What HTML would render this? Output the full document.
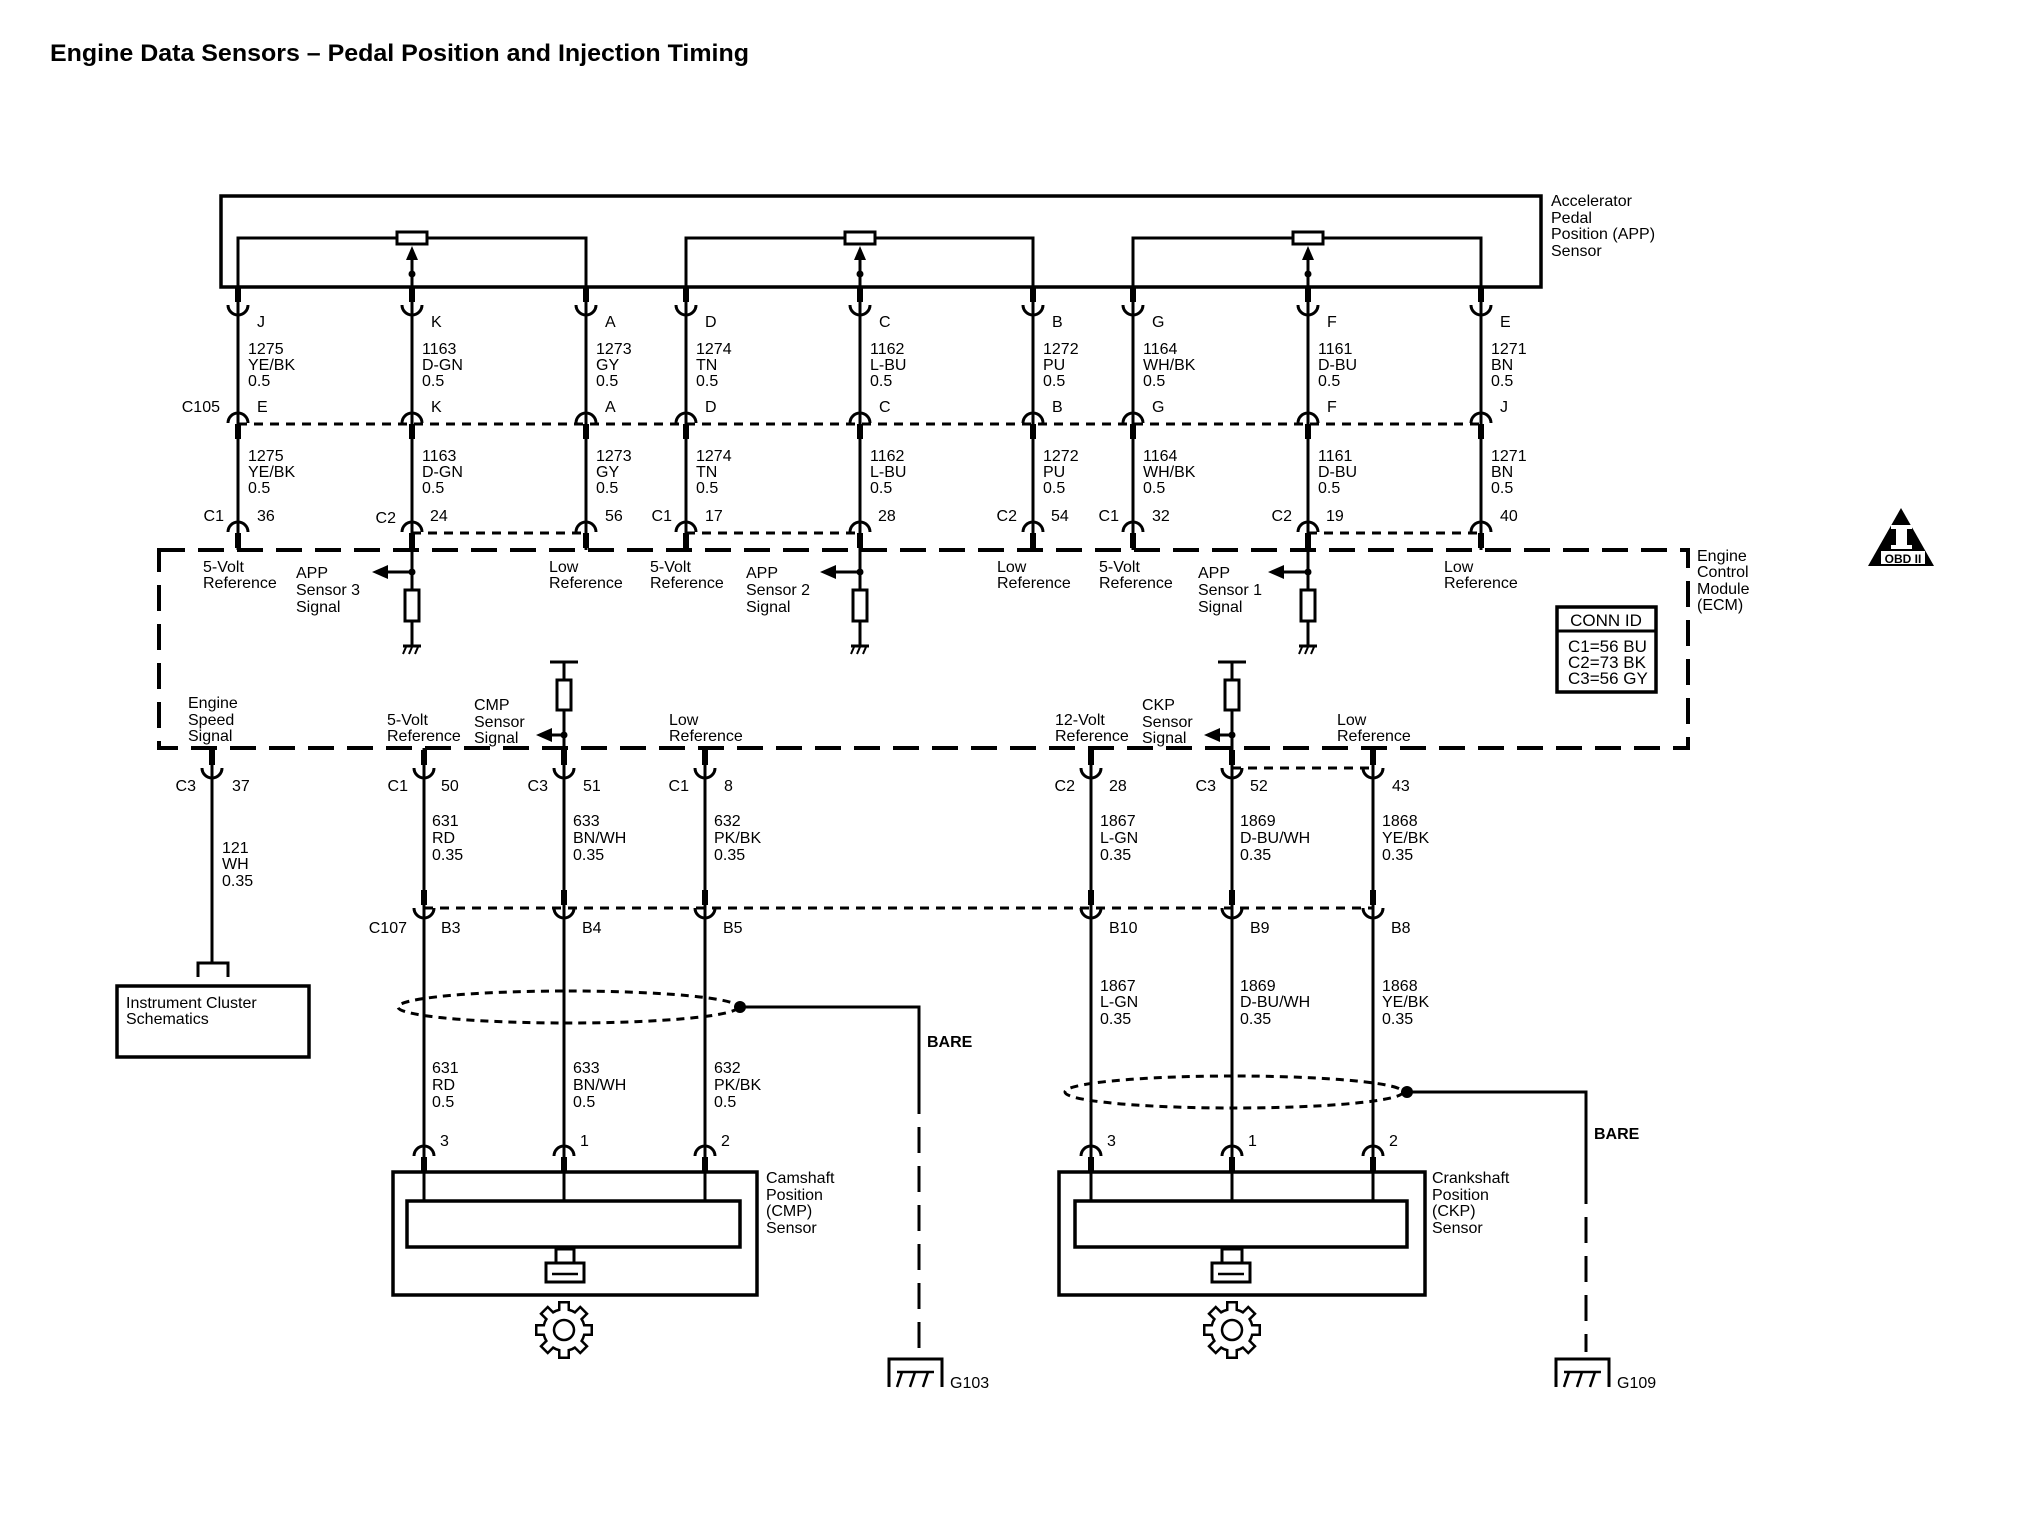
<!DOCTYPE html>
<html><head><meta charset="utf-8"><style>
html,body{margin:0;padding:0;background:#fff}
svg{display:block}
text{font-family:"Liberation Sans",sans-serif;font-size:16px;fill:#000}
</style></head><body>
<svg width="2030" height="1520" viewBox="0 0 2030 1520" xmlns="http://www.w3.org/2000/svg">
<defs>
<g id="cu"><rect x="-3" y="-28" width="6" height="15" fill="#000"/><path d="M-10,-10 A10,10 0 0 0 10,-10" fill="none" stroke="#000" stroke-width="3"/></g>
<g id="cn"><path d="M-10,10 A10,10 0 0 1 10,10" fill="none" stroke="#000" stroke-width="3"/><rect x="-3" y="11" width="6" height="15" fill="#000"/></g>
<g id="gnd"><line x1="-9" y1="0" x2="9" y2="0" stroke="#000" stroke-width="3"/><path d="M-6,1 L-9,8 M0,1 L-3,8 M6,1 L3,8" stroke="#000" stroke-width="2"/></g>
<g id="tb"><rect x="-6" y="-29" width="12" height="12" fill="#000"/></g>
<g id="tw"><rect x="-3.5" y="-26.5" width="7" height="10" fill="#fff"/></g>
<g id="gear">
<circle r="22" fill="#000"/>
<use href="#tb"/><use href="#tb" transform="rotate(45)"/><use href="#tb" transform="rotate(90)"/><use href="#tb" transform="rotate(135)"/><use href="#tb" transform="rotate(180)"/><use href="#tb" transform="rotate(225)"/><use href="#tb" transform="rotate(270)"/><use href="#tb" transform="rotate(315)"/>
<circle r="19.5" fill="#fff"/>
<use href="#tw"/><use href="#tw" transform="rotate(45)"/><use href="#tw" transform="rotate(90)"/><use href="#tw" transform="rotate(135)"/><use href="#tw" transform="rotate(180)"/><use href="#tw" transform="rotate(225)"/><use href="#tw" transform="rotate(270)"/><use href="#tw" transform="rotate(315)"/>
<circle r="10" fill="none" stroke="#000" stroke-width="2.5"/></g>
</defs>

<text x="50" y="61" style="font-size:24px;font-weight:bold" textLength="699" lengthAdjust="spacingAndGlyphs">Engine Data Sensors – Pedal Position and Injection Timing</text>

<rect x="221" y="196" width="1320" height="91" fill="none" stroke="#000" stroke-width="3.5"/>
<g fill="none" stroke="#000" stroke-width="3">
<path d="M238,287 V238 H586 V287"/><path d="M686,287 V238 H1033 V287"/><path d="M1133,287 V238 H1481 V287"/>
<line x1="412" y1="287" x2="412" y2="258"/><line x1="860" y1="287" x2="860" y2="258"/><line x1="1308" y1="287" x2="1308" y2="258"/>
</g>
<g fill="#fff" stroke="#000" stroke-width="3">
<rect x="397" y="232" width="30" height="12"/><rect x="845" y="232" width="30" height="12"/><rect x="1293" y="232" width="30" height="12"/>
</g>
<g fill="#000">
<path d="M412,246 L406,260 L418,260Z"/><path d="M860,246 L854,260 L866,260Z"/><path d="M1308,246 L1302,260 L1314,260Z"/>
<circle cx="412" cy="274" r="3.5"/><circle cx="860" cy="274" r="3.5"/><circle cx="1308" cy="274" r="3.5"/>
</g>
<g><text x="1551" y="206">Accelerator</text><text x="1551" y="223">Pedal</text><text x="1551" y="239">Position (APP)</text><text x="1551" y="256">Sensor</text></g>

<g stroke="#000" stroke-width="3">
<line x1="238" y1="287" x2="238" y2="550"/><line x1="412" y1="287" x2="412" y2="550"/><line x1="586" y1="287" x2="586" y2="550"/>
<line x1="686" y1="287" x2="686" y2="550"/><line x1="860" y1="287" x2="860" y2="550"/><line x1="1033" y1="287" x2="1033" y2="550"/>
<line x1="1133" y1="287" x2="1133" y2="550"/><line x1="1308" y1="287" x2="1308" y2="550"/><line x1="1481" y1="287" x2="1481" y2="550"/>
</g>
<g stroke="#000" stroke-width="3" stroke-dasharray="9,7">
<line x1="238" y1="424" x2="1481" y2="424"/>
<line x1="412" y1="533" x2="586" y2="533"/><line x1="686" y1="533" x2="860" y2="533"/><line x1="1308" y1="533" x2="1481" y2="533"/>
</g>
<g>
<use href="#cu" x="238" y="315"/><use href="#cu" x="412" y="315"/><use href="#cu" x="586" y="315"/><use href="#cu" x="686" y="315"/><use href="#cu" x="860" y="315"/><use href="#cu" x="1033" y="315"/><use href="#cu" x="1133" y="315"/><use href="#cu" x="1308" y="315"/><use href="#cu" x="1481" y="315"/>
<use href="#cn" x="238" y="413"/><use href="#cn" x="412" y="413"/><use href="#cn" x="586" y="413"/><use href="#cn" x="686" y="413"/><use href="#cn" x="860" y="413"/><use href="#cn" x="1033" y="413"/><use href="#cn" x="1133" y="413"/><use href="#cn" x="1308" y="413"/><use href="#cn" x="1481" y="413"/>
<use href="#cn" x="238" y="522"/><use href="#cn" x="412" y="522"/><use href="#cn" x="586" y="522"/><use href="#cn" x="686" y="522"/><use href="#cn" x="860" y="522"/><use href="#cn" x="1033" y="522"/><use href="#cn" x="1133" y="522"/><use href="#cn" x="1308" y="522"/><use href="#cn" x="1481" y="522"/>
</g>
<g>
<text x="257" y="327">J</text><text x="431" y="327">K</text><text x="605" y="327">A</text><text x="705" y="327">D</text><text x="879" y="327">C</text><text x="1052" y="327">B</text><text x="1152" y="327">G</text><text x="1327" y="327">F</text><text x="1500" y="327">E</text>
<text x="220" y="412" text-anchor="end">C105</text>
<text x="257" y="412">E</text><text x="431" y="412">K</text><text x="605" y="412">A</text><text x="705" y="412">D</text><text x="879" y="412">C</text><text x="1052" y="412">B</text><text x="1152" y="412">G</text><text x="1327" y="412">F</text><text x="1500" y="412">J</text>
</g>
<g>
<text x="248" y="354">1275</text><text x="248" y="370">YE/BK</text><text x="248" y="386">0.5</text>
<text x="422" y="354">1163</text><text x="422" y="370">D-GN</text><text x="422" y="386">0.5</text>
<text x="596" y="354">1273</text><text x="596" y="370">GY</text><text x="596" y="386">0.5</text>
<text x="696" y="354">1274</text><text x="696" y="370">TN</text><text x="696" y="386">0.5</text>
<text x="870" y="354">1162</text><text x="870" y="370">L-BU</text><text x="870" y="386">0.5</text>
<text x="1043" y="354">1272</text><text x="1043" y="370">PU</text><text x="1043" y="386">0.5</text>
<text x="1143" y="354">1164</text><text x="1143" y="370">WH/BK</text><text x="1143" y="386">0.5</text>
<text x="1318" y="354">1161</text><text x="1318" y="370">D-BU</text><text x="1318" y="386">0.5</text>
<text x="1491" y="354">1271</text><text x="1491" y="370">BN</text><text x="1491" y="386">0.5</text>

<text x="248" y="461">1275</text><text x="248" y="477">YE/BK</text><text x="248" y="493">0.5</text>
<text x="422" y="461">1163</text><text x="422" y="477">D-GN</text><text x="422" y="493">0.5</text>
<text x="596" y="461">1273</text><text x="596" y="477">GY</text><text x="596" y="493">0.5</text>
<text x="696" y="461">1274</text><text x="696" y="477">TN</text><text x="696" y="493">0.5</text>
<text x="870" y="461">1162</text><text x="870" y="477">L-BU</text><text x="870" y="493">0.5</text>
<text x="1043" y="461">1272</text><text x="1043" y="477">PU</text><text x="1043" y="493">0.5</text>
<text x="1143" y="461">1164</text><text x="1143" y="477">WH/BK</text><text x="1143" y="493">0.5</text>
<text x="1318" y="461">1161</text><text x="1318" y="477">D-BU</text><text x="1318" y="493">0.5</text>
<text x="1491" y="461">1271</text><text x="1491" y="477">BN</text><text x="1491" y="493">0.5</text>
</g>
<g>
<text x="224" y="521" text-anchor="end">C1</text><text x="257" y="521">36</text>
<text x="396" y="523" text-anchor="end">C2</text><text x="430" y="521">24</text>
<text x="605" y="521">56</text>
<text x="672" y="521" text-anchor="end">C1</text><text x="705" y="521">17</text>
<text x="878" y="521">28</text>
<text x="1017" y="521" text-anchor="end">C2</text><text x="1051" y="521">54</text>
<text x="1119" y="521" text-anchor="end">C1</text><text x="1152" y="521">32</text>
<text x="1292" y="521" text-anchor="end">C2</text><text x="1326" y="521">19</text>
<text x="1500" y="521">40</text>
</g>

<rect x="159" y="550" width="1529" height="198" fill="none" stroke="#000" stroke-width="4" stroke-dasharray="26,13"/>
<g><text x="1697" y="561">Engine</text><text x="1697" y="577">Control</text><text x="1697" y="594">Module</text><text x="1697" y="610">(ECM)</text></g>
<g stroke="#000" stroke-width="3" fill="none">
<line x1="412" y1="550" x2="412" y2="646"/><line x1="412" y1="572" x2="384" y2="572"/><rect x="405" y="590" width="14" height="31" fill="#fff"/>
<line x1="860" y1="550" x2="860" y2="646"/><line x1="860" y1="572" x2="832" y2="572"/><rect x="853" y="590" width="14" height="31" fill="#fff"/>
<line x1="1308" y1="550" x2="1308" y2="646"/><line x1="1308" y1="572" x2="1280" y2="572"/><rect x="1301" y="590" width="14" height="31" fill="#fff"/>
</g>
<g fill="#000">
<path d="M372,572 L388,565 L388,579Z"/><circle cx="412" cy="572" r="3.5"/>
<path d="M820,572 L836,565 L836,579Z"/><circle cx="860" cy="572" r="3.5"/>
<path d="M1268,572 L1284,565 L1284,579Z"/><circle cx="1308" cy="572" r="3.5"/>
</g>
<use href="#gnd" x="412" y="646"/><use href="#gnd" x="860" y="646"/><use href="#gnd" x="1308" y="646"/>
<g>
<text x="203" y="572">5-Volt</text><text x="203" y="588">Reference</text>
<text x="296" y="578">APP</text><text x="296" y="595">Sensor 3</text><text x="296" y="612">Signal</text>
<text x="549" y="572">Low</text><text x="549" y="588">Reference</text>
<text x="650" y="572">5-Volt</text><text x="650" y="588">Reference</text>
<text x="746" y="578">APP</text><text x="746" y="595">Sensor 2</text><text x="746" y="612">Signal</text>
<text x="997" y="572">Low</text><text x="997" y="588">Reference</text>
<text x="1099" y="572">5-Volt</text><text x="1099" y="588">Reference</text>
<text x="1198" y="578">APP</text><text x="1198" y="595">Sensor 1</text><text x="1198" y="612">Signal</text>
<text x="1444" y="572">Low</text><text x="1444" y="588">Reference</text>
</g>
<rect x="1557" y="607" width="99" height="85" fill="none" stroke="#000" stroke-width="3.5"/>
<line x1="1557" y1="631" x2="1656" y2="631" stroke="#000" stroke-width="3"/>
<g style="font-size:17px"><text x="1606" y="626" text-anchor="middle" style="font-size:17px">CONN ID</text>
<text x="1568" y="652" style="font-size:17px">C1=56 BU</text><text x="1568" y="668" style="font-size:17px">C2=73 BK</text><text x="1568" y="684" style="font-size:17px">C3=56 GY</text></g>
<path d="M1901,508 L1868,566 L1934,566Z" fill="#000"/>
<rect x="1896" y="528" width="11" height="18" fill="#fff"/><rect x="1891" y="525" width="21" height="4" fill="#fff"/><rect x="1891" y="545" width="21" height="4" fill="#fff"/>
<rect x="1881" y="551" width="44" height="13" fill="#fff"/>
<text x="1903" y="563" text-anchor="middle" style="font-size:12px;font-weight:bold">OBD II</text>

<g stroke="#000" stroke-width="3" fill="none">
<line x1="550" y1="662" x2="578" y2="662"/><line x1="564" y1="662" x2="564" y2="748"/><rect x="557" y="680" width="14" height="30" fill="#fff"/><line x1="564" y1="735" x2="548" y2="735"/>
<line x1="1218" y1="662" x2="1246" y2="662"/><line x1="1232" y1="662" x2="1232" y2="748"/><rect x="1225" y="680" width="14" height="30" fill="#fff"/><line x1="1232" y1="735" x2="1216" y2="735"/>
</g>
<g fill="#000"><path d="M536,735 L552,728 L552,742Z"/><circle cx="564" cy="735" r="3.5"/><path d="M1204,735 L1220,728 L1220,742Z"/><circle cx="1232" cy="735" r="3.5"/></g>
<g>
<text x="188" y="708">Engine</text><text x="188" y="725">Speed</text><text x="188" y="741">Signal</text>
<text x="387" y="725">5-Volt</text><text x="387" y="741">Reference</text>
<text x="474" y="710">CMP</text><text x="474" y="727">Sensor</text><text x="474" y="743">Signal</text>
<text x="669" y="725">Low</text><text x="669" y="741">Reference</text>
<text x="1055" y="725">12-Volt</text><text x="1055" y="741">Reference</text>
<text x="1142" y="710">CKP</text><text x="1142" y="727">Sensor</text><text x="1142" y="743">Signal</text>
<text x="1337" y="725">Low</text><text x="1337" y="741">Reference</text>
</g>

<g stroke="#000" stroke-width="3">
<line x1="212" y1="748" x2="212" y2="962"/>
<line x1="424" y1="748" x2="424" y2="1172"/><line x1="564" y1="748" x2="564" y2="1172"/><line x1="705" y1="748" x2="705" y2="1172"/>
<line x1="1091" y1="748" x2="1091" y2="1172"/><line x1="1232" y1="748" x2="1232" y2="1172"/><line x1="1373" y1="748" x2="1373" y2="1172"/>
</g>
<g stroke="#000" stroke-width="3" stroke-dasharray="9,7">
<line x1="1232" y1="768" x2="1373" y2="768"/>
<line x1="424" y1="908" x2="1373" y2="908"/>
</g>
<g>
<use href="#cu" x="212" y="778"/><use href="#cu" x="424" y="778"/><use href="#cu" x="564" y="778"/><use href="#cu" x="705" y="778"/><use href="#cu" x="1091" y="778"/><use href="#cu" x="1232" y="778"/><use href="#cu" x="1373" y="778"/>
<use href="#cu" x="424" y="918"/><use href="#cu" x="564" y="918"/><use href="#cu" x="705" y="918"/><use href="#cu" x="1091" y="918"/><use href="#cu" x="1232" y="918"/><use href="#cu" x="1373" y="918"/>
<use href="#cn" x="424" y="1146"/><use href="#cn" x="564" y="1146"/><use href="#cn" x="705" y="1146"/><use href="#cn" x="1091" y="1146"/><use href="#cn" x="1232" y="1146"/><use href="#cn" x="1373" y="1146"/>
</g>
<g>
<text x="196" y="791" text-anchor="end">C3</text><text x="232" y="791">37</text>
<text x="408" y="791" text-anchor="end">C1</text><text x="441" y="791">50</text>
<text x="548" y="791" text-anchor="end">C3</text><text x="583" y="791">51</text>
<text x="689" y="791" text-anchor="end">C1</text><text x="724" y="791">8</text>
<text x="1075" y="791" text-anchor="end">C2</text><text x="1109" y="791">28</text>
<text x="1216" y="791" text-anchor="end">C3</text><text x="1250" y="791">52</text>
<text x="1392" y="791">43</text>

<text x="222" y="853">121</text><text x="222" y="869">WH</text><text x="222" y="886">0.35</text>
<text x="432" y="826">631</text><text x="432" y="843">RD</text><text x="432" y="860">0.35</text>
<text x="573" y="826">633</text><text x="573" y="843">BN/WH</text><text x="573" y="860">0.35</text>
<text x="714" y="826">632</text><text x="714" y="843">PK/BK</text><text x="714" y="860">0.35</text>
<text x="1100" y="826">1867</text><text x="1100" y="843">L-GN</text><text x="1100" y="860">0.35</text>
<text x="1240" y="826">1869</text><text x="1240" y="843">D-BU/WH</text><text x="1240" y="860">0.35</text>
<text x="1382" y="826">1868</text><text x="1382" y="843">YE/BK</text><text x="1382" y="860">0.35</text>

<text x="407" y="933" text-anchor="end">C107</text>
<text x="441" y="933">B3</text><text x="582" y="933">B4</text><text x="723" y="933">B5</text>
<text x="1109" y="933">B10</text><text x="1250" y="933">B9</text><text x="1391" y="933">B8</text>

<text x="432" y="1073">631</text><text x="432" y="1090">RD</text><text x="432" y="1107">0.5</text>
<text x="573" y="1073">633</text><text x="573" y="1090">BN/WH</text><text x="573" y="1107">0.5</text>
<text x="714" y="1073">632</text><text x="714" y="1090">PK/BK</text><text x="714" y="1107">0.5</text>
<text x="1100" y="991">1867</text><text x="1100" y="1007">L-GN</text><text x="1100" y="1024">0.35</text>
<text x="1240" y="991">1869</text><text x="1240" y="1007">D-BU/WH</text><text x="1240" y="1024">0.35</text>
<text x="1382" y="991">1868</text><text x="1382" y="1007">YE/BK</text><text x="1382" y="1024">0.35</text>

<text x="440" y="1146">3</text><text x="580" y="1146">1</text><text x="721" y="1146">2</text>
<text x="1107" y="1146">3</text><text x="1248" y="1146">1</text><text x="1389" y="1146">2</text>
</g>

<path d="M198,977 V963 H228 V977" fill="none" stroke="#000" stroke-width="3"/>
<rect x="117" y="986" width="192" height="71" fill="none" stroke="#000" stroke-width="3.5"/>
<text x="126" y="1008">Instrument Cluster</text><text x="126" y="1024">Schematics</text>

<ellipse cx="568" cy="1007" rx="170" ry="16" fill="none" stroke="#000" stroke-width="3" stroke-dasharray="8,6"/>
<circle cx="740" cy="1007" r="6" fill="#000"/>
<path d="M740,1007 H919 V1088" fill="none" stroke="#000" stroke-width="3"/>
<line x1="919" y1="1088" x2="919" y2="1352" stroke="#000" stroke-width="3" stroke-dasharray="26,13"/>
<path d="M889,1387 V1359 H942 V1387" fill="none" stroke="#000" stroke-width="3"/>
<path d="M897,1387 L902,1372 M910,1387 L915,1372 M923,1387 L928,1372" stroke="#000" stroke-width="2.5"/>
<line x1="897" y1="1372" x2="934" y2="1372" stroke="#000" stroke-width="2.5"/>
<text x="950" y="1388">G103</text>
<text x="927" y="1047" style="font-weight:bold">BARE</text>

<ellipse cx="1234" cy="1092" rx="169" ry="16" fill="none" stroke="#000" stroke-width="3" stroke-dasharray="8,6"/>
<circle cx="1407" cy="1092" r="6" fill="#000"/>
<path d="M1407,1092 H1586 V1178" fill="none" stroke="#000" stroke-width="3"/>
<line x1="1586" y1="1178" x2="1586" y2="1352" stroke="#000" stroke-width="3" stroke-dasharray="26,13"/>
<path d="M1556,1387 V1359 H1609 V1387" fill="none" stroke="#000" stroke-width="3"/>
<path d="M1564,1387 L1569,1372 M1577,1387 L1582,1372 M1590,1387 L1595,1372" stroke="#000" stroke-width="2.5"/>
<line x1="1564" y1="1372" x2="1601" y2="1372" stroke="#000" stroke-width="2.5"/>
<text x="1617" y="1388">G109</text>
<text x="1594" y="1139" style="font-weight:bold">BARE</text>

<rect x="393" y="1172" width="364" height="123" fill="none" stroke="#000" stroke-width="3.5"/>
<rect x="407" y="1201" width="333" height="46" fill="#fff" stroke="#000" stroke-width="3.5"/>
<g stroke="#000" stroke-width="3"><line x1="424" y1="1172" x2="424" y2="1201"/><line x1="564" y1="1172" x2="564" y2="1201"/><line x1="705" y1="1172" x2="705" y2="1201"/></g>
<rect x="556" y="1249" width="18" height="14" fill="none" stroke="#000" stroke-width="3"/>
<rect x="546" y="1263" width="38" height="19" fill="#fff" stroke="#000" stroke-width="3"/>
<path d="M552,1274 H578" stroke="#000" stroke-width="2.5"/>
<use href="#gear" x="564" y="1330"/>
<g><text x="766" y="1183">Camshaft</text><text x="766" y="1200">Position</text><text x="766" y="1216">(CMP)</text><text x="766" y="1233">Sensor</text></g>

<rect x="1059" y="1172" width="366" height="123" fill="none" stroke="#000" stroke-width="3.5"/>
<rect x="1075" y="1201" width="332" height="46" fill="#fff" stroke="#000" stroke-width="3.5"/>
<g stroke="#000" stroke-width="3"><line x1="1091" y1="1172" x2="1091" y2="1201"/><line x1="1232" y1="1172" x2="1232" y2="1201"/><line x1="1373" y1="1172" x2="1373" y2="1201"/></g>
<rect x="1222" y="1249" width="20" height="14" fill="none" stroke="#000" stroke-width="3"/>
<rect x="1212" y="1263" width="38" height="19" fill="#fff" stroke="#000" stroke-width="3"/>
<path d="M1218,1274 H1244" stroke="#000" stroke-width="2.5"/>
<use href="#gear" x="1232" y="1330"/>
<g><text x="1432" y="1183">Crankshaft</text><text x="1432" y="1200">Position</text><text x="1432" y="1216">(CKP)</text><text x="1432" y="1233">Sensor</text></g>
</svg>
</body></html>
